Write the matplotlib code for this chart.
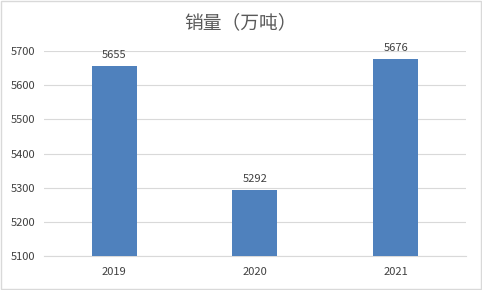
import matplotlib
matplotlib.use('Agg')
import matplotlib.pyplot as plt
from matplotlib.patches import Rectangle

plt.rcParams['font.family'] = ['Noto Sans CJK SC', 'DejaVu Sans']

years = ['2019', '2020', '2021']
sales = [5655, 5292, 5676]
yticks = [5100, 5200, 5300, 5400, 5500, 5600, 5700]

fig = plt.figure(figsize=(4.82, 2.9), dpi=100)
ax = fig.add_axes([0.091, 0.117, 0.876, 0.707])

x = range(len(years))
bars = ax.bar(x, sales, width=0.32, color='#4f81bd', zorder=3)
for xi, v in zip(x, sales):
    ax.text(xi, v + 18, str(v), ha='center', va='bottom', fontsize=8, color='#404040')

ax.set_xlim(-0.5, 2.5)
ax.set_ylim(5100, 5700)
ax.set_yticks(yticks)
ax.set_xticks(list(x))
ax.set_xticklabels(years)
ax.grid(axis='y', color='#d9d9d9', linewidth=0.8, zorder=0)
for s in ['top', 'right', 'left']:
    ax.spines[s].set_visible(False)
ax.spines['bottom'].set_color('#d9d9d9')
ax.tick_params(axis='both', length=0, labelsize=8, colors='#404040')
ax.tick_params(axis='y', pad=6)
ax.tick_params(axis='x', pad=8)

fig.text(0.5, 0.922, '销量（万吨）', ha='center', va='center', fontsize=13.5, color='#595959')
fig.patches.append(Rectangle((0.002, 0.003), 0.995, 0.993, transform=fig.transFigure,
                             fill=False, edgecolor='#d9d9d9', linewidth=1))

fig.savefig('out.png', dpi=100)
